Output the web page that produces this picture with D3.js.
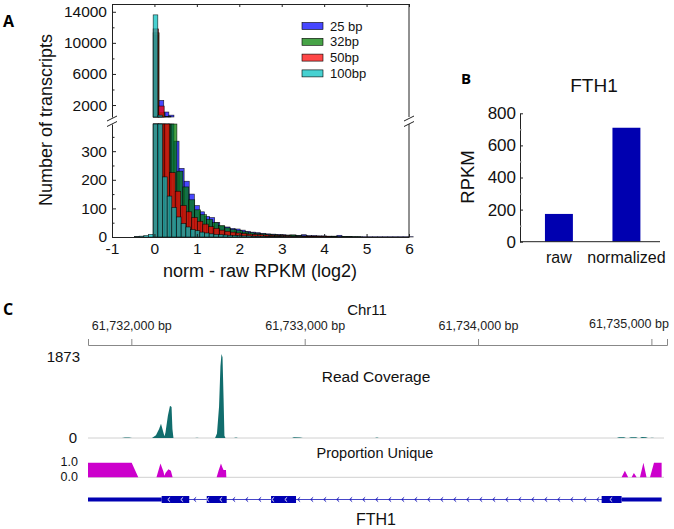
<!DOCTYPE html>
<html><head><meta charset="utf-8">
<script src="https://cdn.jsdelivr.net/npm/d3@7"></script>
<style>body{margin:0;background:#fff}</style>
</head><body>
<svg id="c" width="674" height="529"></svg>
<script>
// ---------------- Panel A data ----------------
const seriesNames = ["25 bp", "32bp", "50bp", "100bp"];
const seriesColors = ["#0000ff", "#008000", "#ff0000", "#00bfbf"];
const binStart = [-0.02, -0.03, -0.03, -0.47];
const binWidth = [0.12, 0.14, 0.13, 0.11];
const counts25 = [11000, 2600, 1100, 700, 335, 240, 195, 150, 110, 88, 72, 68, 50, 38, 35, 30, 28, 24, 20, 17, 15, 13, 11, 10, 9, 8, 7, 7, 6, 8, 5, 5, 4, 4, 3, 3, 6, 2, 2, 1, 1, 1, 1, 1, 1, 1, 1, 1, 1, 1, 1];
const counts32 = [11300, 1000, 520, 420, 230, 175, 130, 95, 78, 62, 50, 40, 32, 26, 22, 18, 15, 13, 11, 9, 8, 7, 6, 7, 5, 4, 3, 3, 2, 2, 2, 1, 1, 1, 1];
const counts50 = [11800, 1870, 440, 225, 160, 110, 88, 68, 55, 45, 36, 30, 24, 20, 17, 14, 12, 10, 9, 8, 7, 6, 5, 5, 4, 3, 3, 2, 2, 2, 1, 1];
const counts100 = [2, 3, 5, 9, 13600, 700, 210, 143, 103, 70, 47, 35, 26, 22, 17, 14, 11, 9, 8, 7, 6, 5, 5, 4, 4, 3, 3, 3, 2, 2, 2, 2, 1, 1, 1, 1];
const xTicksA = [-1, 0, 1, 2, 3, 4, 5, 6];
const yTicksTop = [2000, 6000, 10000, 14000];
const yMinorTop = [4000, 8000, 12000];
const yTicksBottom = [0, 100, 200, 300];
const yMinorBottom = [50, 150, 250, 350];

// ---------------- Panel B data ----------------
const rpkmCategories = ["raw", "normalized"];
const rpkmValues = [173, 710];
const rpkmTicks = [0, 200, 400, 600, 800];
const rpkmMinor = [100, 300, 500, 700];

// ---------------- Panel C data ----------------
const genomeTicks = [61732000, 61733000, 61734000, 61735000];
const coverage = [
  [61731750, 0], [61731946, 0], [61731963, 12], [61731987, 12], [61732004, 0],
  [61732119, 0], [61732142, 60], [61732160, 200], [61732171, 320], [61732183, 150],
  [61732191, 40], [61732197, 120], [61732211, 500], [61732223, 720], [61732232, 690],
  [61732237, 200], [61732243, 0],
  [61732367, 0], [61732379, 8], [61732390, 0],
  [61732483, 0], [61732494, 100], [61732506, 700], [61732514, 1600], [61732520, 1873],
  [61732526, 1800], [61732532, 900], [61732537, 50], [61732543, 0],
  [61732592, 0], [61732604, 10], [61732615, 0],
  [61732927, 0], [61732938, 15], [61732973, 12], [61732990, 0],
  [61733405, 0], [61733417, 10], [61733428, 0],
  [61734801, 0], [61734813, 15], [61734842, 15], [61734853, 0],
  [61734870, 0], [61734882, 15], [61734911, 15], [61734922, 0],
  [61734934, 0], [61734945, 20], [61734968, 18], [61734980, 0],
  [61734992, 0], [61735003, 8], [61735020, 0], [61735059, 0]
];
const propUnique = [
  [61731750, 0], [61731750, 1], [61732002, 1], [61732040, 0],
  [61732145, 0], [61732168, 0.95], [61732185, 0.4], [61732191, 0.1], [61732197, 0.3],
  [61732214, 0.55], [61732228, 0.45], [61732238, 0],
  [61732492, 0], [61732503, 0.45], [61732517, 0.95], [61732526, 0.65], [61732532, 0.5],
  [61732546, 0.5], [61732548, 0],
  [61734828, 0], [61734847, 0.45], [61734866, 0],
  [61734886, 0], [61734899, 0.3], [61734915, 0],
  [61734934, 0], [61734954, 1.0], [61734972, 0],
  [61734992, 0], [61735015, 1], [61735059, 1], [61735059, 0]
];
const geneSpan = [61731750, 61735059];
const exons = [[61732175, 61732334], [61732435, 61732550], [61732806, 61732950], [61734713, 61734828]];

// ---------------- Drawing ----------------
const FONT = "'Liberation Sans', Arial, Helvetica, sans-serif";
const svg = d3.select("#c").attr("font-family", FONT);

// ===== Panel A =====
const xA = d3.scaleLinear().domain([-1, 6]).range([112, 409]);
const topBreak = 460, botBreak = 395;
const yTop = d3.scaleLinear().domain([topBreak, 15000]).range([117, 4]);
const yBot = d3.scaleLinear().domain([0, botBreak]).range([237, 124]);
const allCounts = [counts25, counts32, counts50, counts100];

const gA = svg.append("g");
allCounts.forEach((counts, s) => {
  const bins = counts.map((v, i) => ({x0: binStart[s] + i * binWidth[s], x1: binStart[s] + (i + 1) * binWidth[s], v}));
  const g = gA.append("g").attr("fill", seriesColors[s]).attr("fill-opacity", 0.72)
    .attr("stroke", "#000").attr("stroke-width", 0.6).attr("stroke-opacity", 0.85);
  g.selectAll("rect.b").data(bins.filter(d => d.v > 0)).join("rect")
    .attr("x", d => xA(d.x0)).attr("width", d => xA(d.x1) - xA(d.x0))
    .attr("y", d => yBot(Math.min(d.v, botBreak)))
    .attr("height", d => yBot(0) - yBot(Math.min(d.v, botBreak)));
  g.selectAll("rect.t").data(bins.filter(d => d.v > topBreak)).join("rect")
    .attr("x", d => xA(d.x0)).attr("width", d => xA(d.x1) - xA(d.x0))
    .attr("y", d => yTop(d.v))
    .attr("height", d => yTop(topBreak) - yTop(d.v));
});

function styleAxis(g, size) {
  g.attr("font-family", FONT).attr("font-size", size);
  g.selectAll(".domain").attr("stroke", "#222");
  g.selectAll(".tick line").attr("stroke", "#222");
  g.selectAll(".tick text").attr("fill", "#111");
}
// left axes
const axTopL = svg.append("g").attr("transform", "translate(112,0)")
  .call(d3.axisLeft(yTop).tickValues(yTicksTop).tickSizeInner(-4).tickSizeOuter(0).tickPadding(5).tickFormat(d3.format("d")));
styleAxis(axTopL, 15.5);
svg.append("g").attr("transform", "translate(112,0)")
  .call(d3.axisLeft(yTop).tickValues(yMinorTop).tickSize(-2.5).tickFormat("")).call(g => styleAxis(g, 10)).select(".domain").remove();
const axBotL = svg.append("g").attr("transform", "translate(112,0)")
  .call(d3.axisLeft(yBot).tickValues(yTicksBottom).tickSizeInner(-4).tickSizeOuter(0).tickPadding(5));
styleAxis(axBotL, 15.5);
svg.append("g").attr("transform", "translate(112,0)")
  .call(d3.axisLeft(yBot).tickValues(yMinorBottom).tickSize(-2.5).tickFormat("")).call(g => styleAxis(g, 10)).select(".domain").remove();
// right borders
[[4, 117], [124, 237]].forEach(([a, b]) => {
  svg.append("line").attr("x1", 409).attr("x2", 409).attr("y1", a).attr("y2", b).attr("stroke", "#222");
});
// bottom axis
const axBot = svg.append("g").attr("transform", "translate(0,237)")
  .call(d3.axisBottom(xA).tickValues(xTicksA).tickSizeInner(-3).tickSizeOuter(0).tickPadding(6).tickFormat(d3.format("d")));
styleAxis(axBot, 15.5);
axBot.selectAll(".tick text").text(d => d < 0 ? "-" + Math.abs(d) : d);
// top border
const axTopB = svg.append("g").attr("transform", "translate(0,4)")
  .call(d3.axisTop(xA).tickValues(xTicksA).tickSizeInner(-3).tickSizeOuter(0).tickFormat(""));
styleAxis(axTopB, 10);
// break marks
[112, 409].forEach(x => {
  [118.5, 124].forEach(y => {
    svg.append("line").attr("x1", x - 5).attr("y1", y + 2.5).attr("x2", x + 5).attr("y2", y - 2.5)
      .attr("stroke", "#222").attr("stroke-width", 1);
  });
});
// titles
svg.append("text").attr("transform", "translate(52,120) rotate(-90)").attr("text-anchor", "middle")
  .attr("font-size", 18).attr("fill", "#111").text("Number of transcripts");
svg.append("text").attr("x", 260).attr("y", 277).attr("text-anchor", "middle")
  .attr("font-size", 18).attr("fill", "#111").text("norm - raw RPKM (log2)");
// legend
const leg = svg.append("g");
seriesNames.forEach((n, i) => {
  const y = 26 + i * 15.8;
  leg.append("rect").attr("x", 302).attr("y", y - 3.5).attr("width", 21).attr("height", 7)
    .attr("fill", seriesColors[i]).attr("fill-opacity", 0.72).attr("stroke", "#000").attr("stroke-width", 0.6);
  leg.append("text").attr("x", 330).attr("y", y + 4.5).attr("font-size", 13).attr("fill", "#111").text(n);
});
svg.append("text").attr("x", 3).attr("y", 27).attr("font-family", "'Open Sans', sans-serif")
  .attr("font-weight", 700).attr("font-size", 16).text("A");

// ===== Panel B =====
const xB = d3.scaleBand().domain(rpkmCategories).range([520, 660]).paddingInner(0.586).paddingOuter(0.33).align(0.56);
const yB = d3.scaleLinear().domain([0, 800]).range([241.7, 113.3]);
svg.append("g").selectAll("rect").data(rpkmCategories).join("rect")
  .attr("x", d => xB(d)).attr("width", xB.bandwidth())
  .attr("y", (d, i) => yB(rpkmValues[i])).attr("height", (d, i) => yB(0) - yB(rpkmValues[i]))
  .attr("fill", "#0000b0");
const axBL = svg.append("g").attr("transform", "translate(520,0)")
  .call(d3.axisLeft(yB).tickValues(rpkmTicks).tickSizeInner(-3).tickSizeOuter(0).tickPadding(4));
styleAxis(axBL, 17);
svg.append("g").attr("transform", "translate(520,0)")
  .call(d3.axisLeft(yB).tickValues(rpkmMinor).tickSize(-2).tickFormat("")).call(g => styleAxis(g, 10))
  .call(g => g.selectAll(".tick line").attr("stroke", "#bbb")).select(".domain").remove();
const axBB = svg.append("g").attr("transform", "translate(0,241.7)")
  .call(d3.axisBottom(xB).tickSize(0).tickPadding(10));
styleAxis(axBB, 16);
axBB.select(".domain").attr("d", "M520,0H660");
svg.append("text").attr("transform", "translate(474,177) rotate(-90)").attr("text-anchor", "middle")
  .attr("font-size", 18.5).attr("fill", "#111").text("RPKM");
svg.append("text").attr("x", 594).attr("y", 92).attr("text-anchor", "middle")
  .attr("font-size", 19).attr("fill", "#111").text("FTH1");
svg.append("text").attr("x", 461).attr("y", 84).attr("font-family", "'Open Sans', sans-serif")
  .attr("font-weight", 700).attr("font-size", 15).text("B");

// ===== Panel C =====
const xC = d3.scaleLinear().domain([61731750, 61735090]).range([88, 667]);
svg.append("text").attr("x", 3).attr("y", 315).attr("font-family", "'Open Sans', sans-serif")
  .attr("font-weight", 700).attr("font-size", 16).text("C");
svg.append("text").attr("x", 367).attr("y", 315).attr("text-anchor", "middle")
  .attr("font-size", 15).attr("fill", "#111").text("Chr11");
const axC = svg.append("g").attr("transform", "translate(0,345)")
  .call(d3.axisTop(xC).tickValues(genomeTicks).tickSizeInner(6).tickSizeOuter(6).tickPadding(9)
    .tickFormat(d => d3.format(",")(d) + " bp"));
axC.attr("font-family", FONT).attr("font-size", 12.5);
axC.selectAll(".domain, .tick line").attr("stroke", "#888");
axC.selectAll(".tick text").attr("fill", "#222");
axC.selectAll(".tick").filter((d, i, n) => i === n.length - 1).select("text")
  .attr("text-anchor", "end").attr("x", 17).attr("dy", "-0.15em");

// coverage track
const yCov = d3.scaleLinear().domain([0, 1873]).range([438, 354]);
svg.append("line").attr("x1", 88).attr("x2", 664).attr("y1", yCov(0)).attr("y2", yCov(0)).attr("stroke", "#d0d0d0");
svg.append("path").datum(coverage)
  .attr("d", d3.area().x(d => xC(d[0])).y0(yCov(0)).y1(d => yCov(d[1])))
  .attr("fill", "#116d6d");
svg.append("text").attr("x", 80).attr("y", 362).attr("text-anchor", "end").attr("font-size", 15).attr("fill", "#111").text("1873");
svg.append("text").attr("x", 77).attr("y", 443).attr("text-anchor", "end").attr("font-size", 15).attr("fill", "#111").text("0");
svg.append("text").attr("x", 376).attr("y", 382).attr("text-anchor", "middle").attr("font-size", 15.5).attr("fill", "#111").text("Read Coverage");

// proportion unique track
const yPU = d3.scaleLinear().domain([0, 1]).range([477.3, 462.7]);
svg.append("line").attr("x1", 88).attr("x2", 664).attr("y1", yPU(0)).attr("y2", yPU(0)).attr("stroke", "#d0d0d0");
svg.append("path").datum(propUnique)
  .attr("d", d3.area().x(d => xC(d[0])).y0(yPU(0)).y1(d => yPU(d[1])))
  .attr("fill", "#cc00cc");
svg.append("text").attr("x", 78).attr("y", 466).attr("text-anchor", "end").attr("font-size", 12.5).attr("fill", "#111").text("1.0");
svg.append("text").attr("x", 78).attr("y", 481).attr("text-anchor", "end").attr("font-size", 12.5).attr("fill", "#111").text("0.0");
svg.append("text").attr("x", 375).attr("y", 458).attr("text-anchor", "middle").attr("font-size", 14.5).attr("fill", "#111").text("Proportion Unique");

// gene model
const gy = 499.5, geneCol = "#0000b2";
const firstEx = exons[0][0], lastEx = exons[exons.length - 1][1];
svg.append("line").attr("x1", xC(firstEx)).attr("x2", xC(lastEx)).attr("y1", gy).attr("y2", gy)
  .attr("stroke", "#4646c8").attr("stroke-width", 1);
svg.append("rect").attr("x", xC(geneSpan[0])).attr("width", xC(firstEx) - xC(geneSpan[0])).attr("y", gy - 2).attr("height", 4).attr("fill", geneCol);
svg.append("rect").attr("x", xC(lastEx)).attr("width", xC(geneSpan[1]) - xC(lastEx)).attr("y", gy - 2).attr("height", 4).attr("fill", geneCol);
svg.append("g").selectAll("rect").data(exons).join("rect")
  .attr("x", d => xC(d[0])).attr("width", d => xC(d[1]) - xC(d[0]))
  .attr("y", gy - 3.5).attr("height", 7).attr("fill", geneCol);
const arrowPos = d3.range(firstEx + 40, lastEx - 20, 75);
svg.append("g").selectAll("path").data(arrowPos).join("path")
  .attr("d", d => `M${xC(d) + 1.5},${gy - 2.2}L${xC(d) - 0.8},${gy}L${xC(d) + 1.5},${gy + 2.2}`)
  .attr("fill", "none").attr("stroke-width", 0.9)
  .attr("stroke", d => exons.some(e => d > e[0] && d < e[1]) ? "#fff" : geneCol);
svg.append("text").attr("x", 376).attr("y", 525).attr("text-anchor", "middle").attr("font-size", 16).attr("fill", "#111").text("FTH1");
</script>
</body></html>
